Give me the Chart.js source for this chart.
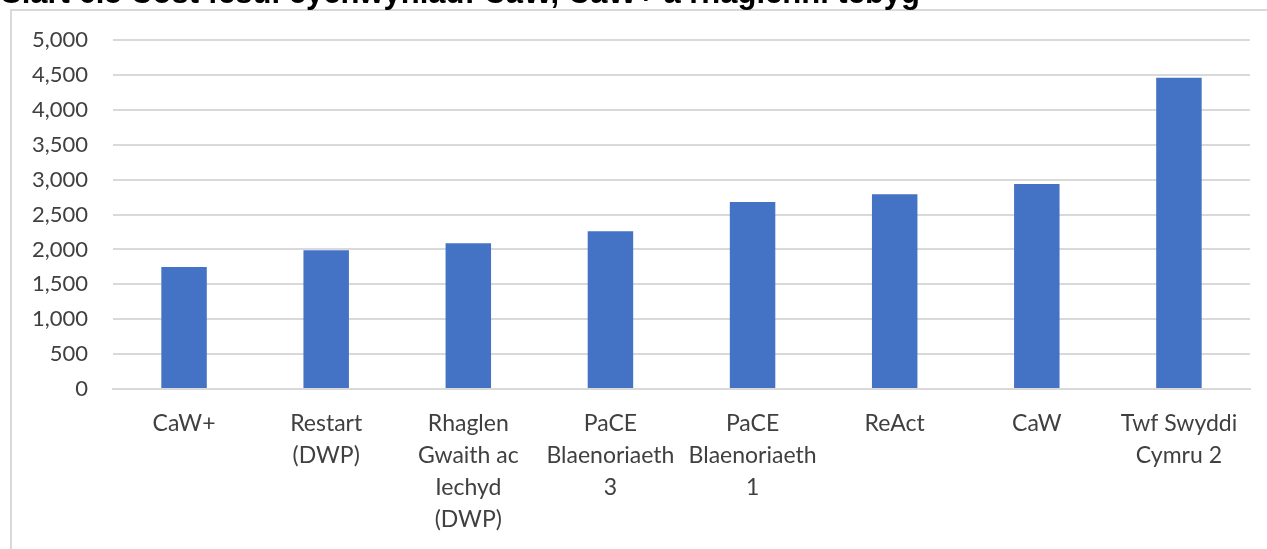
<!DOCTYPE html>
<html>
<head>
<meta charset="utf-8">
<script src="https://cdn.jsdelivr.net/npm/chart.js@4.4.1/dist/chart.umd.min.js"></script>
<style>
  html, body { margin: 0; padding: 0; background: #fff; overflow: hidden; }
  body { width: 1267px; height: 549px; position: relative; }
  #title { position: absolute; left: 1px; top: -23px; font: bold 31px "Liberation Sans", Arial, sans-serif; color: #000; white-space: nowrap; line-height: 31px; z-index: 2; }
  #box { position: absolute; left: 10px; top: 9px; width: 1270px; height: 560px; border: 2px solid #d9d9d9; box-sizing: border-box; background: #fff; }
  #wrap { position: absolute; left: 11px; top: 2px; width: 1256px; height: 547px; }
</style>
</head>
<body>
<div id="box"></div>
<div id="title">Siart 6.5 Cost fesul cychwyniad: CaW, CaW+ a rhaglenni tebyg</div>
<div id="wrap"><canvas id="c" width="1256" height="547"></canvas></div>
<script>
const categories = [
  ["CaW+"],
  ["Restart", "(DWP)"],
  ["Rhaglen", "Gwaith ac", "Iechyd", "(DWP)"],
  ["PaCE", "Blaenoriaeth", "3"],
  ["PaCE", "Blaenoriaeth", "1"],
  ["ReAct"],
  ["CaW"],
  ["Twf Swyddi", "Cymru 2"]
];
const costPerStart = [1750, 1990, 2090, 2260, 2680, 2790, 2940, 4460];
const yTicks = [0, 500, 1000, 1500, 2000, 2500, 3000, 3500, 4000, 4500, 5000];

const xFont = { family: "Lato, 'Open Sans', sans-serif", size: 23, lineHeight: '32px' };
const yFont = { family: "Lato, 'Open Sans', sans-serif", size: 22 };

new Chart(document.getElementById('c'), {
  type: 'bar',
  data: {
    labels: categories,
    datasets: [{
      data: costPerStart,
      backgroundColor: '#4472C4',
      borderWidth: 0,
      barPercentage: 0.32,
      categoryPercentage: 1.0
    }]
  },
  options: {
    responsive: false,
    animation: false,
    layout: { padding: { left: 0, right: 17, top: 2, bottom: 0 } },
    plugins: { legend: { display: false }, tooltip: { enabled: false }, title: { display: false } },
    scales: {
      x: {
        grid: { display: false, drawTicks: false },
        border: { display: true, color: '#d9d9d9', width: 2 },
        ticks: { color: '#404040', font: xFont, padding: 19, maxRotation: 0, autoSkip: false },
        afterFit: (s) => { s.height = 160; }
      },
      y: {
        min: 0, max: 5000,
        afterBuildTicks: (s) => { s.ticks = yTicks.map(v => ({ value: v })); },
        grid: { color: '#d9d9d9', lineWidth: 2, drawTicks: false },
        border: { display: false },
        ticks: {
          color: '#404040', font: yFont, padding: 25,
          callback: (v) => v.toLocaleString('en-US')
        },
        afterFit: (s) => { s.width = 102; }
      }
    }
  }
});
</script>
</body>
</html>
